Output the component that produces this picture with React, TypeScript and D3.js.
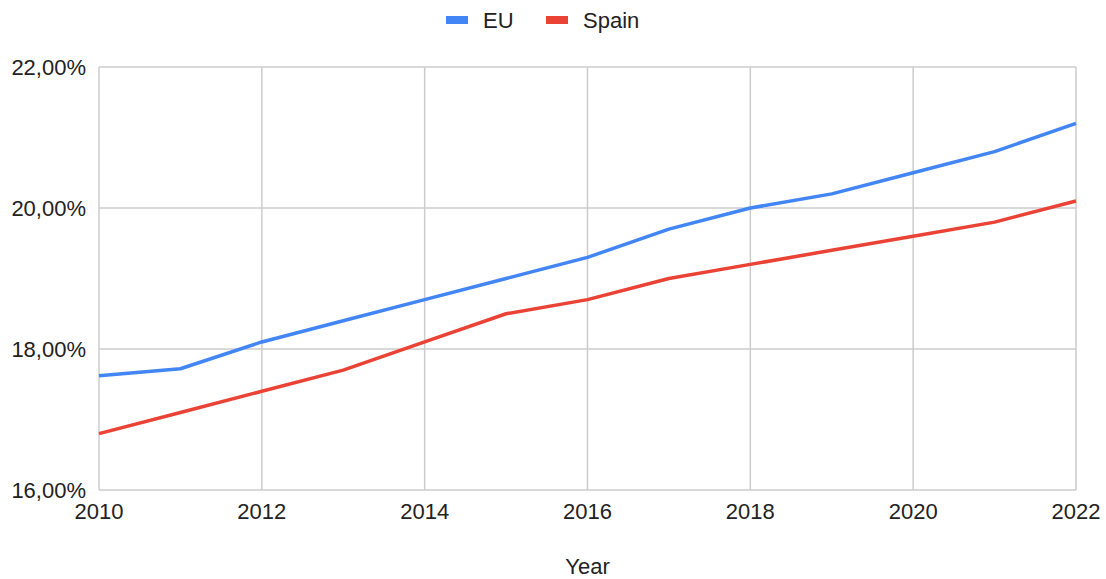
import React from "react";
import * as d3 from "d3";

const years = [2010, 2011, 2012, 2013, 2014, 2015, 2016, 2017, 2018, 2019, 2020, 2021, 2022];
const euValues = [17.62, 17.72, 18.1, 18.4, 18.7, 19.0, 19.3, 19.7, 20.0, 20.2, 20.5, 20.8, 21.2];
const spainValues = [16.8, 17.1, 17.4, 17.7, 18.1, 18.5, 18.7, 19.0, 19.2, 19.4, 19.6, 19.8, 20.1];
const yTicks = [16, 18, 20, 22];
const xTicks = [2010, 2012, 2014, 2016, 2018, 2020, 2022];
const seriesNames = ["EU", "Spain"];
const seriesColors = ["#4285F4", "#EA4335"];

export default function App() {
  const W = 1106, H = 579;
  const left = 99, right = 1076, top = 67, bottom = 490;
  const x = d3.scaleLinear().domain([2010, 2022]).range([left, right]);
  const y = d3.scaleLinear().domain([16, 22]).range([bottom, top]);
  const line = d3.line<number>().x((_, i) => x(years[i])).y((v) => y(v));
  const fmt = (v: number) => v.toFixed(2).replace(".", ",") + "%";
  const font = "'Liberation Sans', Arial, sans-serif";
  const data = [euValues, spainValues];
  const legendItems = [
    { rx: 446, tx: 483 },
    { rx: 546, tx: 583 },
  ];
  const fs = 22;
  return (
    <svg width={W} height={H} style={{ position: "absolute", left: 0, top: 0, background: "#fff" }} fontFamily={font}>
      <rect width={W} height={H} fill="#fff" />
      {yTicks.map((t) => (
        <line key={"gy" + t} x1={left} x2={right} y1={y(t)} y2={y(t)} stroke="#cccccc" strokeWidth={1.5} />
      ))}
      {xTicks.map((t) => (
        <line key={"gx" + t} x1={x(t)} x2={x(t)} y1={top} y2={bottom} stroke="#cccccc" strokeWidth={1.5} />
      ))}
      {yTicks.map((t) => (
        <text key={"ty" + t} x={86} y={y(t) + 8} textAnchor="end" fontSize={fs} fill="#222">
          {fmt(t)}
        </text>
      ))}
      {xTicks.map((t) => (
        <text key={"tx" + t} x={x(t)} y={519} textAnchor="middle" fontSize={fs} fill="#222">
          {t}
        </text>
      ))}
      <text x={(left + right) / 2} y={574} textAnchor="middle" fontSize={fs} fill="#222">
        Year
      </text>
      {data.map((d, i) => (
        <path key={"l" + i} d={line(d) || ""} fill="none" stroke={seriesColors[i]} strokeWidth={3.5} strokeLinejoin="round" />
      ))}
      {seriesNames.map((n, i) => (
        <g key={"lg" + i}>
          <rect x={legendItems[i].rx} y={16} width={22} height={8} fill={seriesColors[i]} />
          <text x={legendItems[i].tx} y={28} fontSize={fs} fill="#222">
            {n}
          </text>
        </g>
      ))}
    </svg>
  );
}
